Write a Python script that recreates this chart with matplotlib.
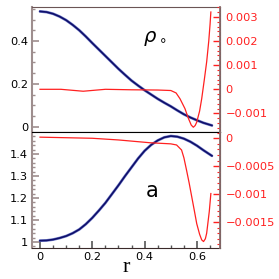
import matplotlib
matplotlib.use("Agg")
import matplotlib.pyplot as plt
from matplotlib.ticker import MultipleLocator, FuncFormatter

# values
r_rho = [0.00, 0.025, 0.05, 0.075, 0.10, 0.125, 0.15, 0.175, 0.20, 0.225, 0.25, 0.275, 0.30,
         0.325, 0.35, 0.375, 0.40, 0.425, 0.45, 0.475, 0.50, 0.525, 0.55, 0.575, 0.60, 0.625,
         0.657]
rho = [0.538, 0.535, 0.527, 0.514, 0.497, 0.475, 0.450, 0.421, 0.390, 0.360, 0.330, 0.300,
       0.270, 0.242, 0.215, 0.192, 0.170, 0.150, 0.130, 0.112, 0.095, 0.076, 0.058, 0.043,
       0.030, 0.018, 0.006]

r_rho_err = [0.00, 0.08, 0.165, 0.25, 0.35, 0.45, 0.50, 0.52, 0.535, 0.554, 0.567, 0.578, 0.586,
             0.593, 0.599, 0.61, 0.618, 0.628, 0.637, 0.645, 0.65, 0.653]
rho_err = [0.0, 0.0, -0.00008, 0.0, -0.00002, -0.00003, -0.00005, -0.00015, -0.00039, -0.0008,
           -0.0012, -0.00148, -0.00157, -0.0015, -0.00136, -0.0009, -0.00039, 0.0004, 0.00114,
           0.0020, 0.0027, 0.0032]

r_a = [0.00, 0.025, 0.05, 0.075, 0.10, 0.125, 0.15, 0.175, 0.20, 0.225, 0.25, 0.275, 0.30,
       0.325, 0.35, 0.375, 0.40, 0.425, 0.45, 0.475, 0.50, 0.525, 0.55, 0.575, 0.60, 0.625,
       0.657]
a = [1.006, 1.007, 1.011, 1.018, 1.027, 1.040, 1.057, 1.081, 1.110, 1.143, 1.178, 1.218, 1.258,
     1.300, 1.340, 1.380, 1.415, 1.442, 1.462, 1.476, 1.482, 1.479, 1.470, 1.456, 1.438, 1.417,
     1.392]

r_a_err = [0.00, 0.2, 0.3, 0.42, 0.50, 0.522, 0.541, 0.55, 0.56, 0.57, 0.58, 0.59, 0.599, 0.61,
           0.618, 0.625, 0.632, 0.637, 0.647, 0.653]
a_err = [0.00002, 0.0, -0.00003, -0.00008, -0.0001, -0.00012, -0.00021, -0.00035, -0.00057,
         -0.0008, -0.00105, -0.0013, -0.00153, -0.00172, -0.00182, -0.00185, -0.0018, -0.0017,
         -0.00131, -0.00099]

BLUE = "#0f0f6a"
HALO = "#7480cc"
RED = "#ff2020"
GREY = "#9e8e8e"

fmt = FuncFormatter(lambda v, _: ("%g" % v).replace("-", "\u2212"))
fmt_r = FuncFormatter(lambda v, _: ("%g" % round(v, 6)).replace("-", "\u2212"))

fig = plt.figure(figsize=(2.79, 2.79), dpi=100)
left, width = 0.1158, 0.6728
ax1 = fig.add_axes([left, 0.5258, width, 0.4502])
ax2 = fig.add_axes([left, 0.1122, width, 0.4136])

for ax in (ax1, ax2):
    ax.set_xlim(-0.0294, 0.688)
    ax.xaxis.set_major_locator(MultipleLocator(0.2))
    ax.xaxis.set_minor_locator(MultipleLocator(0.05))
    ax.xaxis.set_major_formatter(fmt)
    ax.yaxis.set_major_formatter(fmt)
    ax.tick_params(which="both", direction="in", colors=GREY, labelcolor="black",
                   labelsize=8.2, pad=3)
    ax.tick_params(which="major", length=5, width=1.2)
    ax.tick_params(which="minor", length=2.5, width=1.0)
    ax.spines["left"].set_color(GREY)
    ax.spines["left"].set_linewidth(1.5)

# top panel: rho
ax1.plot(r_rho, rho, color=HALO, lw=2.0, solid_capstyle="round")
ax1.plot(r_rho, rho, color=BLUE, lw=1.2)
ax1.set_ylim(-0.026, 0.560)
ax1.yaxis.set_major_locator(MultipleLocator(0.2))
ax1.yaxis.set_minor_locator(MultipleLocator(0.05))
ax1.tick_params(axis="x", which="both", bottom=False, labelbottom=False)
ax1.spines["top"].set_color("#6b5555")
ax1.spines["bottom"].set_color("black")
ax1.text(0.44, 0.41, r"$\rho_\circ$", fontsize=14, ha="center", va="center")

# bottom panel: a
ax2.plot(r_a, a, color=HALO, lw=2.0, solid_capstyle="round")
ax2.plot(r_a, a, color=BLUE, lw=1.2)
ax2.set_ylim(0.974, 1.499)
ax2.yaxis.set_major_locator(MultipleLocator(0.1))
ax2.yaxis.set_minor_locator(MultipleLocator(0.02))
ax2.tick_params(axis="x", which="both", colors="#555555", labelcolor="black")
ax2.spines["top"].set_color("black")
ax2.spines["bottom"].set_color("#3a2a2a")
ax2.text(0.43, 1.232, "a", fontsize=15, ha="center", va="center")
ax2.set_xlabel("r", family="Liberation Serif", fontsize=16, labelpad=-3)

# errors on the right-hand axes
tw1 = ax1.twinx()
tw1.plot(r_rho_err, rho_err, color=RED, lw=0.9)
tw1.set_ylim(-0.00178, 0.00342)
tw1.yaxis.set_major_locator(MultipleLocator(0.001))
tw1.yaxis.set_minor_locator(MultipleLocator(0.0002))

tw2 = ax2.twinx()
tw2.plot(r_a_err, a_err, color=RED, lw=0.9)
tw2.set_ylim(-0.00196, 0.000107)
tw2.yaxis.set_major_locator(MultipleLocator(0.0005))
tw2.yaxis.set_minor_locator(MultipleLocator(0.0001))

for tw in (tw1, tw2):
    tw.yaxis.set_major_formatter(fmt_r)
    tw.yaxis.get_offset_text().set_visible(False)
    tw.tick_params(which="both", direction="in", colors=RED, labelcolor=RED,
                   labelsize=8.2, pad=4)
    tw.tick_params(which="major", length=5, width=1.0)
    tw.tick_params(which="minor", length=2.5, width=0.8)
    tw.spines["right"].set_color("#8b6f6f")
    tw.spines["right"].set_linewidth(1.3)
    for s in ("left", "top", "bottom"):
        tw.spines[s].set_visible(False)

fig.savefig("out.png", dpi=100)
